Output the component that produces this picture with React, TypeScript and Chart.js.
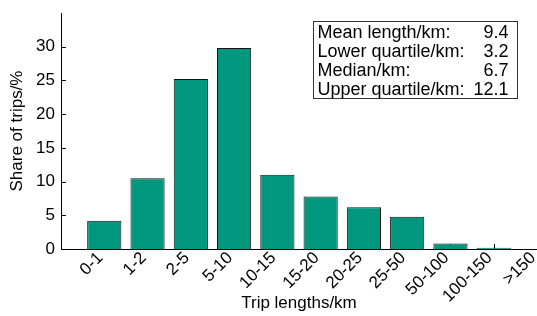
import React, { useEffect, useRef } from 'react';
import { Chart, registerables } from 'chart.js';

Chart.register(...registerables);

const categories = ['0-1', '1-2', '2-5', '5-10', '10-15', '15-20', '20-25', '25-50', '50-100', '100-150', '>150'];
const shares = [4.2, 10.5, 25.2, 29.8, 11.0, 7.8, 6.2, 4.8, 0.8, 0.2, 0];
const yTickValues = [0, 5, 10, 15, 20, 25, 30];
const statLabels = ['Mean length/km:', 'Lower quartile/km:', 'Median/km:', 'Upper quartile/km:'];
const statValues = ['9.4', '3.2', '6.7', '12.1'];

const FONT = "'Liberation Sans', Arial, Helvetica, sans-serif";

const overlayPlugin = {
  id: 'overlay',
  beforeDatasetsDraw(chart: any) {
    const { ctx, chartArea, scales } = chart;
    const x = scales.x;
    ctx.save();
    ctx.strokeStyle = '#000';
    ctx.lineWidth = 1;
    // inward x ticks at category centres (hidden behind bars like the original)
    for (let i = 1; i <= categories.length; i++) {
      const px = Math.round(x.getPixelForValue(i)) + 0.5;
      ctx.beginPath();
      ctx.moveTo(px, chartArea.bottom);
      ctx.lineTo(px, chartArea.bottom - 5);
      ctx.stroke();
    }
    ctx.restore();
  },
  afterDraw(chart: any) {
    const { ctx, chartArea, scales } = chart;
    const y = scales.y;
    ctx.save();
    ctx.strokeStyle = '#000';
    ctx.lineWidth = 1;
    // inward y ticks
    for (const v of yTickValues) {
      const py = Math.round(y.getPixelForValue(v)) + 0.5;
      ctx.beginPath();
      ctx.moveTo(chartArea.left, py);
      ctx.lineTo(chartArea.left + 5, py);
      ctx.stroke();
    }
    // stats box
    const bx = chartArea.left + 252.5;
    const by = chartArea.top + 8.5;
    const bw = 204;
    const bh = 77;
    ctx.fillStyle = '#fff';
    ctx.fillRect(bx, by, bw, bh);
    ctx.strokeStyle = '#333';
    ctx.strokeRect(bx, by, bw, bh);
    ctx.fillStyle = '#000';
    ctx.font = `18px ${FONT}`;
    ctx.textBaseline = 'middle';
    for (let i = 0; i < statLabels.length; i++) {
      const ty = by + 12 + i * 18.7;
      ctx.textAlign = 'left';
      ctx.fillText(statLabels[i], bx + 4, ty);
      ctx.textAlign = 'right';
      ctx.fillText(statValues[i], bx + bw - 9, ty);
    }
    ctx.restore();
  },
};

export default function App() {
  const canvasRef = useRef<HTMLCanvasElement | null>(null);

  useEffect(() => {
    document.body.style.margin = '0';
    const canvas = canvasRef.current;
    if (!canvas) return;
    const chart = new Chart(canvas, {
      type: 'bar',
      data: {
        labels: ['', ...categories],
        datasets: [
          {
            data: [null, ...shares],
            backgroundColor: '#00977F',
            borderColor: '#111',
            borderWidth: 1,
            barPercentage: 0.79,
            categoryPercentage: 1,
          },
        ],
      },
      options: {
        responsive: false,
        animation: false,
        layout: { padding: { top: 13, right: 0, bottom: 0, left: 0 } },
        plugins: {
          legend: { display: false },
          tooltip: { enabled: false },
          title: { display: false },
        },
        scales: {
          x: {
            type: 'category',
            offset: false,
            grid: { display: false, drawTicks: false },
            border: { display: true, color: '#000', width: 1 },
            ticks: {
              autoSkip: false,
              minRotation: 45,
              maxRotation: 45,
              padding: -1,
              labelOffset: -4,
              color: '#000',
              font: { size: 17, family: FONT },
            },
            title: {
              display: true,
              text: 'Trip lengths/km',
              color: '#000',
              font: { size: 17, family: FONT },
              padding: { top: 0, bottom: 2 },
            },
            afterFit: (s: any) => {
              s.height = 67;
              s.paddingLeft = 0;
              s.paddingRight = 0;
            },
          },
          y: {
            min: 0,
            max: 35,
            grid: { display: false, drawTicks: false },
            border: { display: true, color: '#000', width: 1 },
            ticks: {
              stepSize: 5,
              padding: 6,
              color: '#000',
              font: { size: 17, family: FONT },
              callback: (v: any) => (yTickValues.includes(Number(v)) ? String(v) : ''),
            },
            title: {
              display: true,
              text: 'Share of trips/%',
              color: '#000',
              font: { size: 17, family: FONT },
              padding: { top: 7, bottom: 4 },
            },
            afterFit: (s: any) => {
              s.width = 61;
              s.paddingTop = 0;
              s.paddingBottom = 0;
            },
          },
        },
      },
      plugins: [overlayPlugin],
    });
    return () => chart.destroy();
  }, []);

  return (
    <div style={{ width: 537, height: 316, overflow: 'hidden', background: '#fff' }}>
      <canvas ref={canvasRef} width={537} height={316} />
    </div>
  );
}
